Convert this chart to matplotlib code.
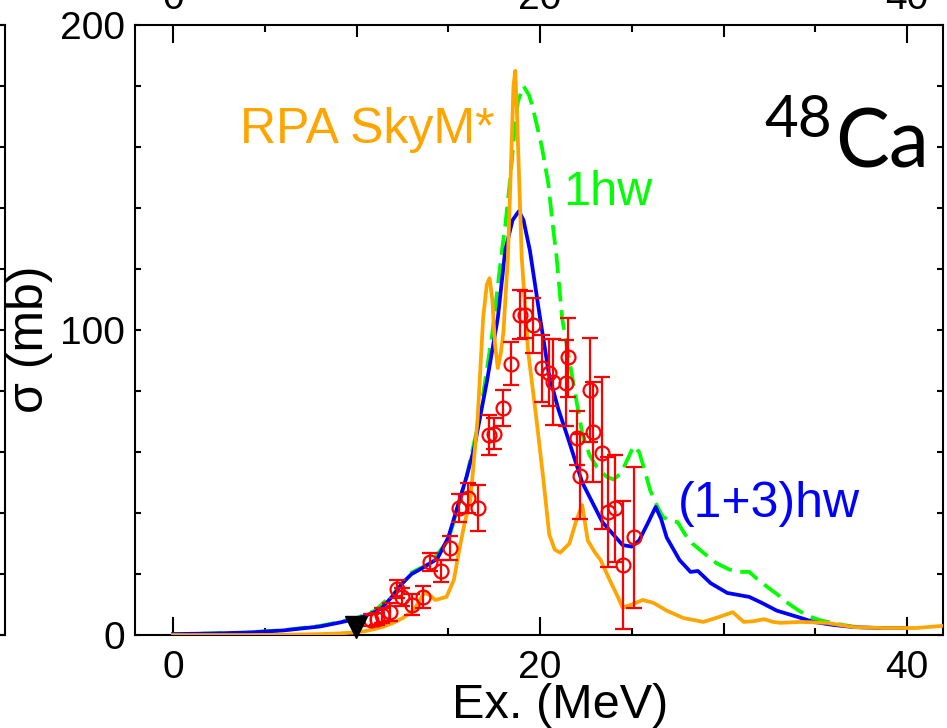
import matplotlib
matplotlib.use('Agg')

import numpy as np
import matplotlib.pyplot as plt
from matplotlib.transforms import blended_transform_factory

plt.rcParams['font.family'] = 'Liberation Sans'

# (1+3)hw  (blue, solid)
x_13hw = [0, 2, 4, 6, 8, 9, 10, 11, 11.4, 12, 12.5, 13, 13.6, 14.4, 15.0, 15.5, 16.0, 16.4,
          17.1, 17.7, 18.1, 18.5, 18.85, 19.1, 19.45, 20.0, 20.5, 21.0, 21.5, 22.3, 23.4,
          24.5, 25.0, 25.4, 25.9, 26.3, 26.6, 26.9, 27.6, 28.2, 28.6, 29.3, 30.2, 31.4,
          32.1, 32.9, 34.0, 34.9, 36.0, 37.1, 38.5, 39.8]
y_13hw = [0.3, 0.5, 0.8, 1.5, 2.8, 4.0, 5.3, 7.5, 9.0, 13, 17, 20, 22, 25, 32, 42, 52, 61,
          83, 104, 126, 136, 139, 136, 126, 104, 85, 74, 65, 50, 37,
          29.5, 29, 31, 37, 42, 38, 32, 24.6, 20.7, 21, 17, 13.8, 12.5,
          10.5, 8, 6, 4.3, 3.3, 2.6, 2.3, 2.3]

# 1hw  (green, dashed)
x_1hw = [0, 2, 4, 6, 8, 9, 10, 11, 12, 13, 14, 15, 16, 16.7, 17.4, 17.9, 18.1, 18.4, 18.6,
         18.8, 19.1, 19.4, 19.6, 20.1, 20.45, 20.7, 20.9, 21.2, 21.8, 22.3, 22.7, 23.1,
         23.6, 24.0, 24.4, 24.8, 25.1, 25.4, 25.7, 26.0, 26.4, 26.7, 27.1, 27.5, 27.9,
         28.3, 29.0, 29.6, 30.3, 30.9, 31.4, 31.9, 32.4, 33.0, 33.5, 34.1, 34.7, 35.3,
         36.0, 36.7, 37.3, 37.6]
y_1hw = [0.3, 0.5, 0.8, 1.6, 3.0, 4.2, 5.6, 8.0, 13.5, 20.5, 23.5, 31, 52, 71, 99, 125, 134,
         151, 165, 175, 180, 177, 173, 160, 148, 134, 124, 104, 83, 66, 59, 55,
         52, 51, 53, 58, 62, 60, 54, 47.5, 42, 38.7, 37.5, 37, 33,
         30, 26.5, 23.6, 21.5, 20.7, 20.7, 18, 15.7, 13, 10.5, 8, 6, 4.8,
         3.9, 3.1, 2.6, 2.4]

# RPA SkyM*  (orange)
x_rpa = [0, 2, 4, 6, 8, 9, 10, 10.5, 11, 11.5, 12, 12.5, 13.1, 13.5, 13.7, 14.0, 14.3, 14.9,
         15.3, 15.6, 15.9, 16.2, 16.6, 16.9, 17.1, 17.25, 17.4, 17.55, 17.7, 17.85, 18.0,
         18.25, 18.45, 18.55, 18.65, 18.75, 19.0, 19.35, 19.8, 20.2, 20.5, 20.8, 21.1, 21.6,
         22.0, 22.3, 22.6, 23.0, 23.3, 23.8, 24.2, 24.5, 25.0, 25.6, 26.2, 26.9, 27.8, 28.9,
         29.8, 30.5, 31.1, 31.6, 32.2, 32.7, 33.1, 34.2, 35.6, 37.1, 38.7, 40.5, 41.5, 42.5]
y_rpa = [0, 0, 0, 0.1, 0.3, 0.5, 0.9, 1.3, 2, 2.8, 4, 5.5, 8, 12, 14, 13, 11.5, 12.5,
         18, 28, 37, 44, 71, 104, 115, 117, 110, 95, 87.5, 92, 99,
         124, 160, 180, 185, 170, 124, 93, 71, 50, 33, 28, 27, 30,
         38, 42.6, 31, 27, 24.6, 18, 13, 9, 10, 11.5, 10.5, 8, 5.6, 4.3,
         6, 7.5, 4.3, 4.5, 5.2, 4.3, 4, 4.3, 4, 2.6, 2.3, 2.3, 2.8, 3.3]

# experiment (red)
x_exp = [10.8, 11.1, 11.4, 11.8, 12.2, 12.5, 13.0, 13.6, 14.0, 14.6, 15.1, 15.6, 16.1, 16.6,
         17.2, 17.5, 18.0, 18.4, 18.9, 19.2, 19.6, 20.1, 20.5, 20.7, 21.4, 21.5, 22.0,
         22.2, 22.7, 22.9, 23.4, 23.7, 24.1, 24.5, 25.1]
y_exp = [5.0, 5.2, 6.5, 7.5, 15, 12.5, 10, 12.5, 24, 21, 28.5, 41.6, 45, 41.6,
         65.6, 66, 74.4, 89, 105, 105, 101.6, 87.5, 86, 83, 82.6, 91, 64.6,
         52, 80.3, 66.6, 59.7, 40.3, 41.6, 23, 32]
err_exp = [2, 2, 2.5, 3, 3, 3, 3.5, 3.5, 3, 3.5, 4, 4.5, 5, 7.5,
           6.5, 5, 6, 7, 8, 7.7, 9, 11, 11, 14, 14, 13, 9,
           14, 17, 16.5, 25, 18, 17.5, 21, 23]

s_n = 9.95   # neutron threshold marker

fig = plt.figure(figsize=(9.47, 7.28), dpi=100)
ax = fig.add_axes([0.1426, 0.1277, 0.8532, 0.8379])

ax.plot(x_1hw, y_1hw, color='#00ff00', lw=2.7, dashes=(5.3, 2.3), zorder=2)
ax.plot(x_13hw, y_13hw, color='#0000ff', lw=2.7, zorder=3)
ax.plot(x_rpa, y_rpa, color='#ffa500', lw=2.7, zorder=4)
ax.errorbar(x_exp, y_exp, yerr=err_exp, fmt='o', mfc='none', mec='#ff0000', ms=10,
            mew=1.6, ecolor='#ff0000', elinewidth=1.6, capsize=6, capthick=1.6, zorder=5)
ax.plot([s_n], [2.6], marker='v', ms=16, color='black', clip_on=False, zorder=6)

ax.set_xlim(-2.07, 41.96)
ax.set_ylim(0, 200)

ax.set_xticks([0, 20, 40])
ax.set_xticks([5, 15, 25, 35], minor=True)
ax.set_yticks(np.arange(0, 201, 20),
              labels=['0', '', '', '', '', '100', '', '', '', '', '200'])
ax.tick_params(axis='x', which='major', direction='in', length=13, width=1.5,
               top=True, labelsize=28, pad=11)
ax.tick_params(axis='x', which='minor', direction='in', length=5, width=1.5, top=True)
ax.tick_params(axis='y', direction='in', length=4.5, width=1.5, right=True,
               labelsize=28, pad=7)
for loc in ('bottom', 'top'):
    sec = ax.secondary_xaxis(loc)
    sec.set_xticks([10, 30], labels=['', ''])
    sec.tick_params(direction='in', length=8.5, width=1.5)
    sec.spines[loc].set_visible(False)
for sp in ax.spines.values():
    sp.set_linewidth(1.5)

ax.set_xlabel('Ex. (MeV)', fontsize=35)
ax.xaxis.set_label_coords(0.526, -0.079)
ax.set_ylabel('σ (mb)', fontsize=36)
ax.yaxis.set_label_coords(-0.1015, 0.485)

ax.text(3.65, 161.3, 'RPA SkyM*', color='#ffa500', fontsize=36)
ax.text(21.25, 141, '1hw', color='#00ff00', fontsize=35)
ax.text(27.5, 38.7, '(1+3)hw', color='#0000ff', fontsize=36)
ax.text(35.9, 163.3, '48', fontsize=42, family='Lato', ha='right')
ax.text(36.1, 153.4, 'Ca', fontsize=58, family='Lato')

# neighbouring panels, cut off by the crop
left = fig.add_axes([-0.3, 0.1277, 0.3 + 5 / 947, 0.8379])
left.set_ylim(0, 200)
left.set_xticks([])
left.set_yticks(np.arange(0, 201, 20))
left.tick_params(axis='y', direction='in', length=4.5, width=1.5, left=False,
                 right=True, labelleft=False)
for sp in left.spines.values():
    sp.set_linewidth(1.5)

tr = blended_transform_factory(ax.transData, fig.transFigure)
for v in [0, 20, 40]:
    ax.text(v, 1 - 9 / 728, str(v), transform=tr, ha='center', va='baseline',
            fontsize=28, clip_on=False)

plt.savefig('out.png', dpi=100)
